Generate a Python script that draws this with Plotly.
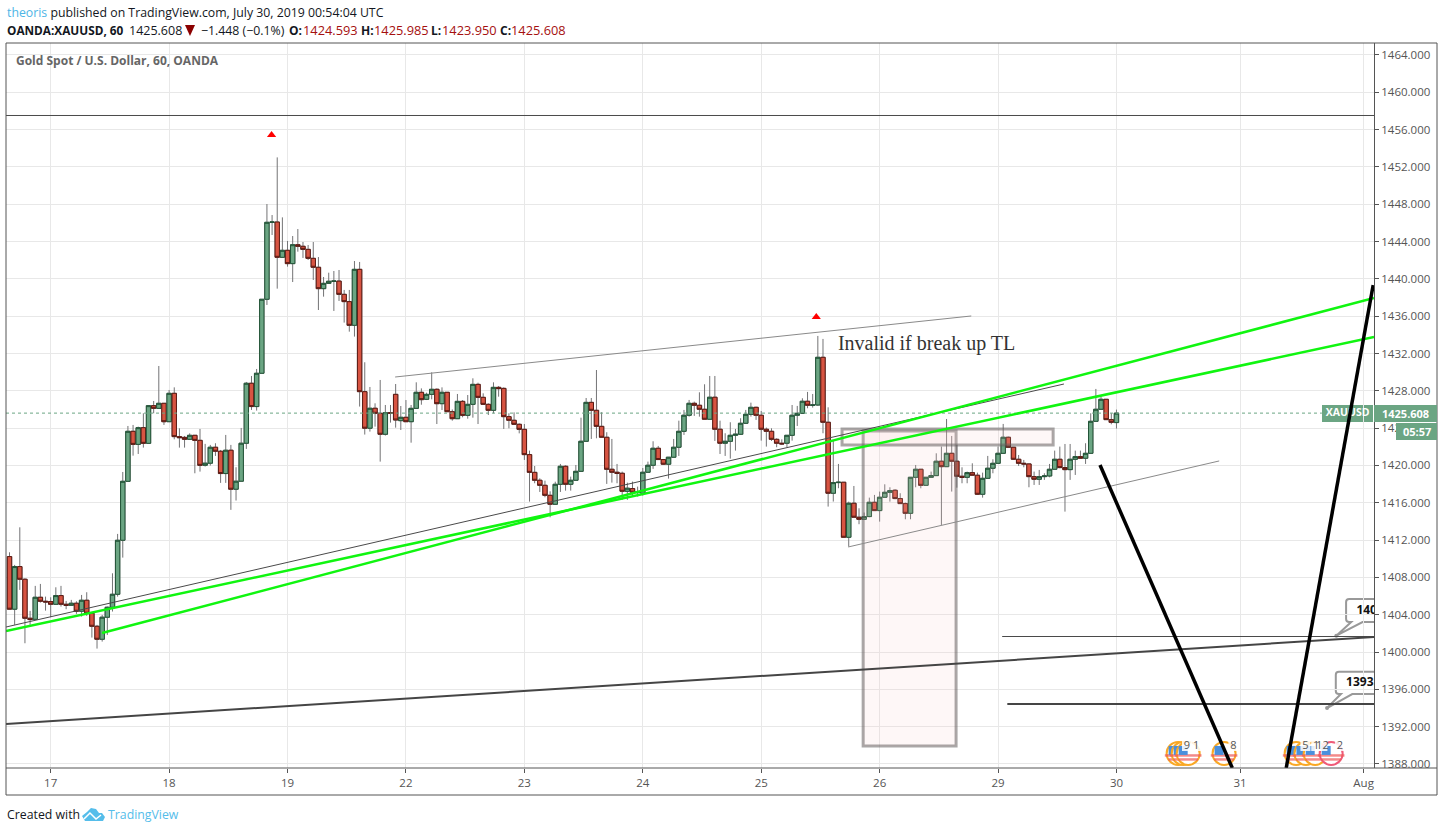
import plotly.graph_objects as go

opens = [1410.23,1404.59,1409.16,1407.80,1403.62,1403.51,1405.87,1405.44,1405.41,1405.12,
1406.05,1405.12,1405.01,1405.23,1404.37,1405.55,1404.16,1402.76,1401.37,1403.73,
1404.80,1406.19,1411.98,1418.30,1423.66,1422.26,1424.05,1422.37,1426.41,1426.12,
1426.66,1424.69,1427.73,1423.09,1423.01,1422.80,1423.23,1422.69,1420.02,1420.24,
1421.95,1421.52,1419.13,1421.63,1417.45,1418.31,1422.38,1428.81,1426.31,1429.88,
1437.81,1446.06,1446.09,1442.31,1443.06,1441.63,1443.66,1443.49,1443.16,1442.2,
1441.24,1438.95,1439.52,1439.74,1439.76,1438.34,1437.56,1435.02,1441.02,1427.91,
1423.99,1426.13,1425.59,1423.34,1425.66,1427.62,1424.8,1425.16,1424.69,1426.12,
1427.84,1427.09,1427.62,1428.16,1426.62,1427.84,1425.76,1425.01,1426.87,1425.37,
1426.55,1428.69,1427.3,1426.55,1425.91,1428.37,1428.26,1425.23,1424.84,1424.41,
1423.87,1421.16,1419.26,1418.41,1417.87,1416.8,1415.84,1417.98,1419.91,1417.98,
1418.41,1419.37,1422.59,1426.76,1425.91,1424.19,1423.02,1419.59,1419.27,1419.16,
1417.23,1417.52,1417.09,1417.02,1419.27,1420.02,1421.84,1420.63,1420.13,1420.88,
1421.95,1423.66,1425.38,1426.66,1426.45,1426.02,1424.95,1427.31,1423.88,1422.38,
1422.59,1423.23,1423.34,1424.52,1425.48,1426.23,1425.38,1423.88,1423.66,1422.8,
1422.38,1422.38,1423.23,1425.38,1425.59,1426.88,1426.45,1426.48,1431.59,1424.63,
1417.02,1418.16,1418.2,1412.3,1415.95,1414.45,1414.23,1414.52,1416.05,1415.16,
1416.59,1417.12,1417.34,1416.45,1415.91,1414.87,1418.73,1419.59,1417.87,1418.73,
1418.91,1420.45,1419.87,1421.3,1420.45,1418.84,1418.73,1419.23,1418.95,1416.91,
1418.62,1419.7,1420.23,1421.3,1423.02,1421.95,1420.66,1420.23,1420.16,1418.8,
1418.52,1418.8,1418.87,1419.59,1420.66,1419.77,1419.55,1420.66,1420.95,1420.77,
1421.3,1424.73,1426.02,1427.09,1424.91,1424.593]

closes = [1404.59,1409.16,1407.80,1403.62,1403.48,1405.87,1405.44,1405.37,1405.12,1406.05,
1405.12,1405.01,1405.23,1404.37,1405.55,1404.16,1402.76,1401.37,1403.73,1404.80,
1406.19,1411.98,1418.30,1423.66,1422.26,1424.05,1422.37,1426.41,1426.12,1426.66,
1424.69,1427.73,1423.09,1422.98,1422.80,1423.23,1422.69,1420.01,1420.24,1421.95,
1421.52,1419.13,1421.63,1417.45,1418.31,1422.38,1428.81,1426.31,1429.88,1437.81,
1446.06,1446.09,1442.31,1443.06,1441.63,1443.66,1443.49,1443.16,1442.2,1441.24,
1438.95,1439.52,1439.74,1439.76,1438.34,1437.56,1435.02,1441.02,1427.91,1423.99,
1426.13,1425.59,1423.34,1425.66,1425.6,1424.87,1425.16,1424.69,1426.12,1427.84,
1427.05,1427.62,1428.16,1426.62,1427.84,1425.76,1425.01,1426.87,1425.37,1426.55,
1428.69,1427.3,1426.55,1425.91,1428.37,1428.23,1425.23,1424.84,1424.41,1423.87,
1421.16,1419.26,1418.41,1417.87,1416.8,1415.84,1417.98,1419.91,1417.98,1418.41,
1419.37,1422.59,1426.76,1425.91,1424.19,1423.02,1419.59,1419.27,1419.16,1417.23,
1417.56,1417.13,1417.2,1419.27,1420.02,1421.84,1420.63,1420.13,1420.88,1421.95,
1423.66,1425.38,1426.66,1426.45,1426.02,1424.95,1427.31,1423.88,1422.38,1422.59,
1423.23,1423.34,1424.52,1425.48,1426.23,1425.38,1423.88,1423.66,1422.8,1422.38,
1422.31,1423.23,1425.38,1425.59,1426.88,1426.45,1426.48,1431.59,1424.63,1417.02,
1418.16,1418.2,1412.3,1415.95,1414.45,1414.23,1414.52,1416.05,1415.16,1416.59,
1417.12,1417.3,1416.45,1415.91,1414.87,1418.73,1419.59,1417.87,1418.73,1418.91,
1420.45,1419.87,1421.3,1420.45,1418.84,1418.73,1419.23,1418.95,1416.91,1418.62,
1419.7,1420.23,1421.3,1423.02,1421.95,1420.66,1420.23,1420.16,1418.8,1418.52,
1418.8,1418.87,1419.59,1420.66,1419.77,1419.55,1420.66,1420.95,1420.77,1421.3,
1424.73,1426.02,1427.09,1424.91,1424.62,1425.608]

highs = [1410.69,1409.34,1413.37,1407.91,1404.41,1407.09,1407.30,1405.94,1405.87,1406.94,
1407.09,1405.48,1405.59,1405.44,1406.12,1406.41,1404.26,1402.91,1403.98,1404.87,
1408.44,1412.66,1419.30,1424.23,1424.34,1424.16,1425.59,1426.41,1426.91,1430.66,
1426.66,1428.09,1428.37,1423.98,1423.16,1423.44,1423.26,1423.91,1422.31,1422.2,
1422.38,1421.66,1423.27,1422.2,1419.81,1424.02,1428.95,1429.59,1430.34,1437.81,
1448.02,1446.84,1453.02,1446.59,1444.06,1444.59,1445.34,1443.95,1443.63,1443.95,
1442.34,1440.2,1440.66,1440.84,1440.95,1438.81,1438.81,1441.91,1441.81,1431.06,
1428.41,1426.66,1429.16,1426.48,1426.48,1428.73,1426.37,1427.01,1426.48,1428.91,
1428.26,1427.8,1429.98,1428.26,1428.37,1427.84,1426.0,1427.66,1427.01,1427.55,
1429.34,1428.87,1427.73,1426.66,1428.91,1428.51,1428.37,1425.59,1425.69,1424.51,
1424.44,1421.59,1419.94,1418.62,1418.37,1417.23,1418.26,1420.16,1420.01,1418.8,
1420.05,1425.12,1427.23,1427.23,1430.23,1425.7,1423.56,1422.84,1420.16,1419.34,
1418.16,1418.27,1417.73,1419.73,1420.41,1422.59,1422.09,1420.66,1420.88,1422.84,
1424.8,1425.95,1427.02,1426.84,1427.84,1428.7,1429.59,1429.59,1424.8,1423.45,
1424.63,1423.91,1425.06,1425.95,1426.73,1426.3,1425.84,1424.06,1423.98,1422.91,
1422.8,1423.23,1426.48,1426.38,1427.2,1427.88,1427.66,1433.88,1433.56,1426.23,
1422.73,1420.16,1418.2,1416.12,1417.8,1415.41,1414.95,1416.55,1416.84,1417.2,
1417.98,1417.66,1417.45,1417.02,1416.02,1418.73,1420.05,1419.59,1418.73,1419.34,
1421.3,1422.02,1424.98,1423.16,1422.2,1419.8,1419.34,1420.23,1419.23,1419.23,
1421.02,1420.66,1422.02,1424.45,1423.09,1421.95,1421.12,1420.59,1420.2,1419.34,
1419.52,1419.16,1420.16,1421.59,1422.02,1422.3,1422.3,1421.59,1421.59,1422.38,
1425.59,1428.2,1427.38,1427.12,1425.59,1425.985]

lows = [1404.59,1402.91,1406.66,1400.94,1402.91,1403.51,1405.30,1404.44,1403.73,1405.05,
1404.87,1404.59,1404.94,1404.09,1403.80,1403.87,1401.55,1400.37,1401.12,1401.84,
1404.34,1405.94,1410.12,1418.30,1421.05,1421.23,1421.91,1422.37,1425.59,1426.12,
1424.34,1424.69,1422.80,1421.91,1421.91,1422.73,1419.16,1419.34,1419.88,1419.99,
1421.02,1418.13,1418.13,1415.24,1416.24,1418.31,1421.77,1425.95,1425.88,1429.88,
1437.2,1444.7,1438.95,1442.31,1441.31,1439.66,1442.91,1442.24,1442.02,1439.88,
1436.66,1438.09,1439.45,1436.56,1437.63,1435.31,1434.34,1433.81,1426.31,1423.31,
1423.63,1424.16,1420.41,1423.2,1424.59,1424.05,1423.8,1424.69,1422.44,1426.12,
1426.51,1427.01,1427.09,1424.44,1425.94,1425.76,1424.8,1425.01,1425.16,1425.01,
1425.12,1424.44,1426.48,1425.41,1425.59,1427.37,1423.91,1423.98,1424.34,1423.44,
1420.59,1416.12,1418.09,1417.16,1416.59,1414.44,1415.76,1417.16,1417.3,1417.3,
1418.37,1419.34,1422.55,1422.84,1422.91,1423.02,1418.02,1418.16,1418.09,1416.31,
1416.31,1416.66,1416.66,1416.77,1419.27,1419.63,1420.59,1420.06,1418.59,1420.88,
1421.02,1423.27,1425.23,1425.31,1425.23,1424.95,1424.95,1422.63,1421.23,1421.02,
1420.73,1421.59,1423.27,1424.45,1425.23,1424.88,1422.66,1422.02,1422.63,1421.95,
1422.2,1421.95,1422.66,1424.23,1425.52,1426.13,1426.2,1426.38,1423.45,1415.59,
1416.13,1417.56,1412.3,1411.3,1414.45,1413.7,1414.16,1414.45,1415.16,1413.98,
1416.59,1416.12,1416.38,1415.88,1414.23,1414.23,1417.66,1417.55,1417.8,1418.73,
1418.91,1413.62,1419.87,1417.2,1417.62,1418.09,1418.09,1418.95,1416.84,1416.55,
1418.62,1419.16,1420.23,1421.3,1421.95,1420.59,1419.95,1419.8,1417.66,1417.91,
1417.91,1418.45,1418.73,1419.59,1419.7,1415.05,1418.45,1418.98,1420.77,1420.16,
1421.3,1424.73,1425.95,1424.87,1424.41,1423.95]

bars = list(range(len(opens)))
day_bars = [8, 31, 54, 77, 100, 123, 146, 169, 192, 215, 239, 263]
day_labels = ["17", "18", "19", "22", "23", "24", "25", "26", "29", "30", "31", "Aug"]
price_ticks = list(range(1388, 1468, 4))
last_price = 1425.608

# Drawing tools: ((bar, price), (bar, price))
thin_gray_lines = [((74.9, 1429.48), (186.8, 1436.02)), ((162.9, 1411.26), (234.95, 1420.48))]
thin_dark_lines = [((-0.68, 1402.68), (204.8, 1428.73)), ((192.8, 1401.665), (266, 1401.665)),
                   ((-0.68, 1457.51), (266, 1457.51))]
thick_dark_lines = [((-0.68, 1392.29), (265.02, 1401.61)), ((193.8, 1394.43), (266, 1394.43))]
green_lines = [((-0.68, 1402.26), (265.02, 1433.77)), ((17.97, 1402.04), (265.02, 1437.95))]
black_lines = [((211.8, 1420.05), (237.5, 1387.57)), ((247.97, 1387.57), (264.86, 1439.34))]
zones = [(165.8, 1389.93, 183.85, 1423.69), (161.7, 1422.19, 202.7, 1423.91)]
# callout: left bar, bottom, top, tip bar, tip price, label
callouts = [(259.6, 1403.22, 1405.68, 257.7, 1401.75, "1401.7"),
            (257.6, 1395.5, 1397.89, 255.9, 1394.0, "1393.5")]
triangle_bars = [50.9, 156.7]
triangle_prices = [1455.42, 1435.91]
event_bars = [226.98, 227.96, 228.93, 235.9, 249.9, 251.8, 253.6, 256.7]
event_rings = ["#f9a825"] * 7 + ["#ef5a78"]
event_price = 1389.13
event_label_bars = [228.7, 230.5, 237.7, 251.7, 253.8, 255.0, 258.4]
event_labels = ["9", "1", "8", "5", "1", "12", "2"]
event_label_price = 1389.93

GRID = "#e8e8e8"; AXIS = "#555555"; TXT = "#555555"
UP = "#6ba583"; DOWN = "#d75442"; UPB = "#225437"; DOWNB = "#5b1a13"; WICK = "#737375"
FONT = "Open Sans"
PL, PR, PT, PB = 6, 1374, 43, 768

def px(x):
    return (x - PL) / (PR - PL)
def py(y):
    return (PB - y) / (PB - PT)

fig = go.Figure()
fig.add_trace(go.Candlestick(x=bars, open=opens, high=highs, low=lows, close=closes,
    increasing=dict(line=dict(color=WICK, width=1), fillcolor="rgba(0,0,0,0)"),
    decreasing=dict(line=dict(color=WICK, width=1), fillcolor="rgba(0,0,0,0)"),
    whiskerwidth=0, hoverinfo="skip"))
fig.add_trace(go.Candlestick(x=bars, open=opens, close=closes,
    high=[max(o, c) for o, c in zip(opens, closes)],
    low=[min(o, c) for o, c in zip(opens, closes)],
    increasing=dict(line=dict(color=UPB, width=1), fillcolor=UP),
    decreasing=dict(line=dict(color=DOWNB, width=1), fillcolor=DOWN),
    whiskerwidth=0, hoverinfo="skip"))

# last price dotted line
fig.add_trace(go.Scatter(x=[-0.68, 254.9], y=[last_price, last_price], mode="lines",
    line=dict(color=UP, width=1, dash="dot")))

# red arrows
fig.add_trace(go.Scatter(x=triangle_bars, y=triangle_prices, mode="markers",
    marker=dict(symbol="triangle-up", size=8, color="#ff0000")))

# event flags
PPP = 1 / 9.33
BPP = 1 / 5.148
for b, ring in zip(event_bars, event_rings):
    fig.add_trace(go.Scatter(x=[b], y=[event_price], mode="markers", cliponaxis=False,
        marker=dict(symbol="circle", size=23, color="white", line=dict(color=ring, width=2))))
    fig.add_trace(go.Scatter(x=[b, b], y=[event_price - 2 * PPP, event_price - 6 * PPP],
        mode="markers", marker=dict(symbol="line-ew", size=[19, 14], color="#ef5a5a",
                                    line=dict(color="#ef5a5a", width=2.5))))
    fig.add_trace(go.Scatter(x=[b - 5 * BPP], y=[event_price + 3 * PPP], mode="markers",
        marker=dict(symbol="square", size=9, color="#4a8fdc")))
fig.add_trace(go.Scatter(x=event_label_bars, y=[event_label_price] * len(event_labels), mode="markers+text",
    text=event_labels, textposition="middle center",
    textfont=dict(family=FONT, size=11, color=TXT),
    marker=dict(symbol="square", size=10, color="rgba(255,255,255,0.85)")))

# comment text
fig.add_trace(go.Scatter(x=[160.9], y=[1432.9], mode="text", text=["Invalid if break up TL"],
    textposition="middle right", textfont=dict(family="Liberation Serif", size=20, color="#333333")))

# symbol label on the price line
fig.add_trace(go.Scatter(x=[259.9], y=[last_price], mode="text", text=["<b>XAUUSD</b>"],
    textposition="middle center", textfont=dict(family=FONT, size=10.5, color="white")))

shapes = []
def seg(p, color, width):
    shapes.append(dict(type="line", xref="x", yref="y", x0=p[0][0], y0=p[0][1], x1=p[1][0], y1=p[1][1],
                       line=dict(color=color, width=width), layer="above"))

# price-line label box (beneath traces)
shapes.append(dict(type="rect", xref="paper", yref="paper", x0=px(1322), x1=px(1373), y0=py(422), y1=py(405),
                   fillcolor=UP, line=dict(width=0), layer="below"))

for left, bot, top, tipx, tipy, label in callouts:
    r = 0.6; rp = 0.32
    path = (f"M{left + r},{top} L268,{top} L268,{bot} L{left + 3.2},{bot} L{tipx},{tipy} L{left + 1.0},{bot} "
            f"L{left + r},{bot} Q{left},{bot} {left},{bot + rp} L{left},{top - rp} Q{left},{top} {left + r},{top} Z")
    shapes.append(dict(type="path", xref="x", yref="y", path=path, fillcolor="white",
                       line=dict(color="#999999", width=2), layer="below"))

for z in zones:
    shapes.append(dict(type="rect", xref="x", yref="y", x0=z[0], y0=z[1], x1=z[2], y1=z[3],
                       fillcolor="rgba(245,200,200,0.15)", line=dict(color="rgba(100,95,95,0.55)", width=3), layer="above"))
for p in thin_gray_lines:
    seg(p, "#8a8a8a", 1)
for p in thin_dark_lines:
    seg(p, "#4a4a4a", 1)
for p in green_lines:
    seg(p, "#10f510", 2.5)
for p in thick_dark_lines:
    seg(p, "#454545", 2)
for p in black_lines:
    seg(p, "#000000", 3.5)

# outer frame
frame = [(6, 43, 1437, 43), (6, 795, 1437, 795), (6, 43, 6, 795), (1437, 43, 1437, 795), (6, 768, 1437, 768)]
for x0, y0, x1, y1 in frame:
    shapes.append(dict(type="line", xref="paper", yref="paper", x0=px(x0), y0=py(y0), x1=px(x1), y1=py(y1),
                       line=dict(color=AXIS, width=1), layer="above"))
# price & countdown boxes
shapes.append(dict(type="rect", xref="paper", yref="paper", x0=px(1374), x1=px(1437), y0=py(422), y1=py(405),
                   fillcolor=UP, line=dict(width=0), layer="above"))
shapes.append(dict(type="rect", xref="paper", yref="paper", x0=px(1396), x1=px(1437), y0=py(440), y1=py(423),
                   fillcolor=UP, line=dict(width=0), layer="above"))
# TradingView logo and change arrow
def poly(points):
    return "M" + " L".join(f"{px(a):.5f},{py(b):.5f}" for a, b in points)
shapes.append(dict(type="path", xref="paper", yref="paper",
                   path=poly([(82, 816), (87, 812), (91, 808), (96, 809), (99, 813), (102, 813), (105, 817), (103, 821), (85, 821)]) + " Z",
                   fillcolor="#55bdea", line=dict(width=0)))
shapes.append(dict(type="path", xref="paper", yref="paper",
                   path=poly([(84, 819), (90, 813), (96, 819), (101, 815)]),
                   line=dict(color="white", width=1.5)))
shapes.append(dict(type="path", xref="paper", yref="paper",
                   path=poly([(185, 25), (195, 25), (190, 36)]) + " Z",
                   fillcolor="#8b0000", line=dict(width=0)))

# callout texts are clipped by the pane
fig.add_trace(go.Scatter(x=[c[0] + 2.0 for c in callouts], y=[(c[1] + c[2]) / 2 for c in callouts],
    mode="text", text=[f"<b>{c[5]}</b>" for c in callouts], textposition="middle right",
    textfont=dict(family=FONT, size=12, color="#111111"), cliponaxis=True))

# callout tips
fig.add_trace(go.Scatter(x=[c[3] for c in callouts], y=[c[4] for c in callouts], mode="markers",
    marker=dict(symbol="circle", size=4, color="#999999")))

anns = []
def note(x, y, text, size=12.5, color="#131722", anchor="left", family=FONT):
    anns.append(dict(xref="paper", yref="paper", x=px(x), y=py(y), text=text, showarrow=False,
                     xanchor=anchor, yanchor="middle", align="left", borderpad=0,
                     font=dict(family=family, size=size, color=color)))

RED = "#a50f0f"
note(6, 12, '<span style="color:#4db5e6">theoris</span> published on TradingView.com, July 30, 2019 00:54:04 UTC', 12.3)
note(6, 30, "<b>OANDA:XAUUSD, 60</b>", 11.8)
note(128, 30, "1425.608", 12.5)
note(200, 30, "−1.448 (−0.1%)", 12.3)
note(288, 30, "<b>O:</b>", 12)
note(302, 30, "1424.593", 12.8, RED)
note(360, 30, "<b>H:</b>", 12)
note(373, 30, "1425.985", 12.8, RED)
note(430, 30, "<b>L:</b>", 12)
note(441, 30, "1423.950", 12.8, RED)
note(499, 30, "<b>C:</b>", 12)
note(510, 30, "1425.608", 12.8, RED)
note(15, 60, "<b>Gold Spot / U.S. Dollar, 60, OANDA</b>", 12, "#666666")
note(6, 814, "Created with", 12.3)
note(107, 814, "TradingView", 12.3, "#55bdea")
note(1405.5, 413.5, "<b>1425.608</b>", 11, "white", "center")
note(1416.5, 431.5, "<b>05:57</b>", 11, "white", "center")

fig.update_layout(
    width=1444, height=832, autosize=False,
    margin=dict(l=PL, r=1444 - PR, t=PT, b=832 - PB, pad=0),
    paper_bgcolor="white", plot_bgcolor="white",
    showlegend=False, hovermode=False,
    boxmode="overlay", boxgap=0, boxgroupgap=0.15,
    shapes=shapes, annotations=anns,
    xaxis=dict(range=[-0.68, 265.02], tickmode="array", tickvals=day_bars, ticktext=day_labels,
               showgrid=True, gridcolor=GRID, gridwidth=1, zeroline=False, showline=False,
               ticks="outside", ticklen=4, tickcolor=AXIS, tickwidth=1,
               tickfont=dict(family=FONT, size=11.5, color=TXT),
               rangeslider=dict(visible=False), fixedrange=True),
    yaxis=dict(range=[1387.57, 1465.28], side="right", tickmode="array", tickvals=price_ticks,
               ticktext=[f"{v:.3f}" for v in price_ticks],
               showgrid=True, gridcolor=GRID, gridwidth=1, zeroline=False,
               showline=True, linecolor=AXIS, linewidth=1, mirror=False,
               ticks="outside", ticklen=4, tickcolor=AXIS, tickwidth=1,
               tickfont=dict(family=FONT, size=11.5, color=TXT), fixedrange=True),
)

fig.write_html("out.html", config={"displayModeBar": False},
               post_script="document.body.style.margin='0';document.body.style.overflow='hidden';")
